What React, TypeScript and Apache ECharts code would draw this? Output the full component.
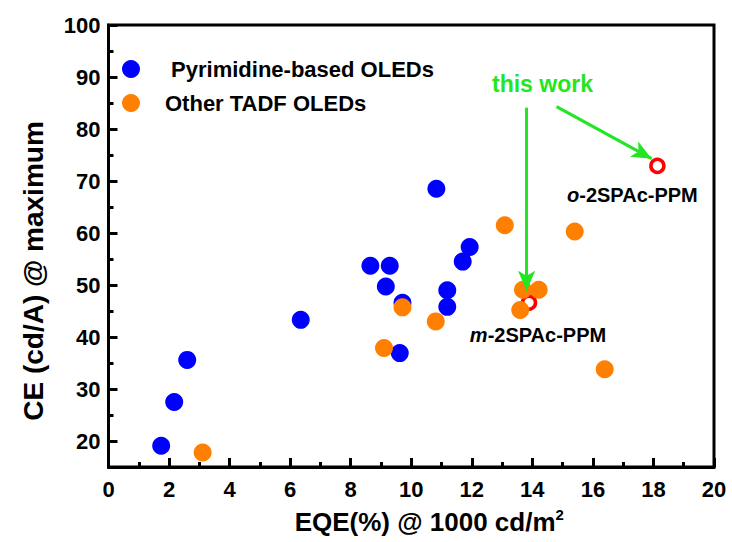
import React, { useEffect, useRef } from "react";
import * as echarts from "echarts";

const xTicks = [0, 2, 4, 6, 8, 10, 12, 14, 16, 18, 20];
const yTicks = [20, 30, 40, 50, 60, 70, 80, 90, 100];
const yMinorTicks = [25, 35, 45, 55, 65, 75, 85, 95];

const pyrimidineName = "Pyrimidine-based OLEDs";
const otherName = "Other TADF OLEDs";

const pyrimidine: [number, number][] = [
  [1.74, 19.1],
  [2.17, 27.5],
  [2.6, 35.6],
  [6.35, 43.3],
  [8.65, 53.7],
  [9.29, 53.7],
  [9.16, 49.7],
  [9.71, 46.6],
  [9.62, 36.9],
  [10.83, 68.5],
  [11.19, 49.0],
  [11.19, 45.8],
  [11.7, 54.5],
  [11.93, 57.3],
];

const otherTadf: [number, number][] = [
  [3.11, 17.8],
  [9.1, 37.9],
  [9.71, 45.7],
  [10.81, 43.0],
  [13.09, 61.5],
  [13.6, 45.2],
  [13.69, 49.1],
  [14.21, 49.1],
  [15.4, 60.3],
  [16.39, 33.8],
];

const thisWork: { name: string; value: [number, number]; offset: [number, number] }[] = [
  { name: "m-2SPAc-PPM", value: [13.89, 46.6], offset: [9, 32] },
  { name: "o-2SPAc-PPM", value: [18.13, 72.9], offset: [-25, 29] },
];

const arrowToM: [number, number][] = [
  [13.81, 84.1],
  [13.81, 48.9],
];
const arrowToO: [number, number][] = [
  [14.8, 84.3],
  [17.94, 74.3],
];

const FONT = "'Liberation Sans', Arial, sans-serif";
const GREEN = "#22E622";

export default function App() {
  const ref = useRef<HTMLDivElement>(null);

  useEffect(() => {
    if (!ref.current) return;
    const chart = echarts.init(ref.current, undefined, { renderer: "svg" });

    const labelRich = {
      i: { fontStyle: "italic", fontWeight: "bold", fontSize: 20, fontFamily: FONT, color: "#000" },
    };

    chart.setOption({
      animation: false,
      backgroundColor: "#fff",
      textStyle: { fontFamily: FONT },
      grid: {
        left: 108.5,
        right: 18,
        top: 25,
        bottom: 73,
        show: true,
        borderColor: "#000",
        borderWidth: 3,
        backgroundColor: "transparent",
      },
      legend: {
        orient: "vertical",
        left: 122,
        top: 58,
        padding: 0,
        itemWidth: 58,
        itemHeight: 18,
        itemGap: 12,
        icon: "circle",
        selectedMode: false,
        data: [pyrimidineName, otherName],
        formatter: (name: string) => (name === pyrimidineName ? " " + name : name),
        textStyle: { fontSize: 22, fontWeight: "bold", color: "#000", fontFamily: FONT },
      },
      xAxis: {
        type: "value",
        min: xTicks[0],
        max: xTicks[xTicks.length - 1],
        interval: 2,
        name: "EQE(%) @ 1000 cd/m{sup|2}",
        nameLocation: "middle",
        nameGap: 40,
        nameTextStyle: {
          fontSize: 26,
          fontWeight: "bold",
          color: "#000",
          fontFamily: FONT,
          lineHeight: 30,
          padding: [0, 0, 0, 36],
          rich: {
            sup: { fontSize: 15, fontWeight: "bold", fontFamily: FONT, color: "#000", verticalAlign: "top", lineHeight: 14 },
          },
        },
        axisLine: { show: true, lineStyle: { color: "#000", width: 3 } },
        axisTick: { show: true, inside: true, length: 9, lineStyle: { color: "#000", width: 3 } },
        minorTick: { show: true, splitNumber: 2, length: 5, lineStyle: { color: "#000", width: 3 } },
        axisLabel: { fontSize: 22, fontWeight: "bold", color: "#000", margin: 11, fontFamily: FONT },
        splitLine: { show: false },
        minorSplitLine: { show: false },
      },
      yAxis: [
        {
          type: "value",
          min: 15,
          max: 100,
          name: "CE (cd/A) @ maximum",
          nameLocation: "middle",
          nameRotate: 90,
          nameGap: 61,
          nameTextStyle: {
            fontSize: 28,
            fontWeight: "bold",
            color: "#000",
            fontFamily: FONT,
            padding: [0, 50, 0, 0],
          },
          axisLine: { show: true, lineStyle: { color: "#000", width: 3 } },
          axisTick: { show: true, inside: true, length: 9, customValues: yTicks, lineStyle: { color: "#000", width: 3 } },
          axisLabel: {
            fontSize: 22,
            fontWeight: "bold",
            color: "#000",
            margin: 8,
            fontFamily: FONT,
            customValues: yTicks,
          },
          splitLine: { show: false },
        },
        {
          type: "value",
          min: 15,
          max: 100,
          position: "left",
          axisLine: { show: false },
          axisTick: { show: true, inside: true, length: 5, customValues: yMinorTicks, lineStyle: { color: "#000", width: 3 } },
          axisLabel: { show: false, customValues: yMinorTicks },
          splitLine: { show: false },
        },
      ],
      graphic: [
        {
          type: "text",
          left: 492,
          top: 72,
          style: {
            text: "this work",
            fill: GREEN,
            font: `bold 23px ${FONT}`,
          },
          silent: true,
        },
      ],
      series: [
        {
          name: "this work",
          type: "scatter",
          yAxisIndex: 0,
          symbol: "circle",
          symbolSize: 13,
          itemStyle: { color: "#FFFFFF", borderColor: "#FF0000", borderWidth: 3.5, opacity: 1 },
          data: thisWork.map((d) => ({
            name: d.name,
            value: d.value,
            label: {
              show: true,
              position: "inside",
              offset: d.offset,
              formatter: "{i|" + d.name.charAt(0) + "}" + d.name.slice(1),
              fontSize: 20,
              fontWeight: "bold",
              color: "#000",
              textBorderWidth: 0,
              fontFamily: FONT,
              rich: labelRich,
            },
          })),
          markLine: {
            silent: true,
            symbol: ["none", "arrow"],
            symbolSize: [13, 20],
            lineStyle: { color: GREEN, width: 3, type: "solid" },
            label: { show: false },
            emphasis: { disabled: true },
            data: [
              [{ coord: arrowToM[0] }, { coord: arrowToM[1] }],
              [{ coord: arrowToO[0] }, { coord: arrowToO[1] }],
            ],
          },
          z: 2,
        },
        {
          name: pyrimidineName,
          type: "scatter",
          yAxisIndex: 0,
          symbol: "circle",
          symbolSize: 18,
          itemStyle: { color: "#0000FF", opacity: 1 },
          data: pyrimidine,
          z: 3,
        },
        {
          name: otherName,
          type: "scatter",
          yAxisIndex: 0,
          symbol: "circle",
          symbolSize: 18,
          itemStyle: { color: "#FF8000", opacity: 1 },
          data: otherTadf,
          z: 4,
        },
      ],
    });

    return () => chart.dispose();
  }, []);

  return <div ref={ref} style={{ width: 732, height: 542, position: "absolute", left: 0, top: 0 }} />;
}
